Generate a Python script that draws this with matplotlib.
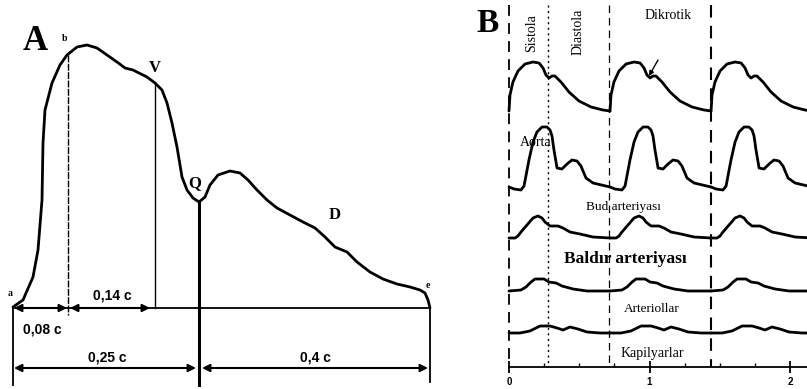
import matplotlib
matplotlib.use("Agg")
import matplotlib.pyplot as plt
import numpy as np

SERIF = "Liberation Serif"
SANS = "Liberation Sans"

# ---------------- Panel A data (pixel-space units of the drawing) ----------------
a_curve_x = [13, 23, 33, 38, 42, 43, 45, 52, 60, 67, 77, 87, 97, 107, 117, 125, 133, 147,
             155, 162, 167, 172, 177, 182, 187, 193, 199, 205, 210, 218, 230, 240, 248, 257,
             267, 277, 290, 303, 315, 325, 335, 347, 357, 370, 383, 397, 410, 420, 425, 428, 430]
a_curve_y = [307, 300, 277, 250, 200, 143, 110, 83, 65, 55, 47, 45, 48, 55, 62, 68, 70, 77,
             83, 90, 103, 123, 147, 177, 190, 198, 202, 197, 185, 175, 171, 173, 180, 190,
             200, 208, 215, 222, 228, 237, 247, 252, 262, 272, 279, 284, 287, 290, 293, 300, 308]
a_marks_x = {"a": 13, "b": 68, "V": 155, "Q": 199, "e": 430}
a_marks_top = {"b": 55, "V": 83, "Q": 203}
a_baseline_y = 308
a_lower_y = 368
a_intervals = ["0,08 c", "0,14 c", "0,25 c", "0,4 c"]

# ---------------- Panel B data (time in seconds, amplitude in drawing units) ----------------
b_cycle_starts = [0.0, 0.719, 1.438]
b_phase_lines = [0.0, 0.278, 0.715, 1.438]
b_xticks = [0, 1, 2]

w_top_t = [0, .007, .028, .064, .114, .171, .214, .242, .263, .285, .306, .327, .370, .427, .498, .584, .669, .719]
w_top_y = [111, 95, 82, 71, 64, 62, 63, 68, 75, 78, 76, 76, 82, 92, 101, 107, 110, 111]

w_aorta_t = [0, .036, .085, .107, .142, .171, .199, .235, .270, .292, .306, .320, .342, .377, .413, .448, .484, .512, .548, .598, .719]
w_aorta_y = [187, 189, 190, 186, 160, 142, 132, 127, 127, 130, 136, 150, 168, 169, 164, 160, 161, 166, 178, 183, 187]

w_bud_t = [0, .043, .064, .085, .128, .171, .206, .235, .256, .292, .349, .384, .434, .505, .598, .719]
w_bud_y = [238, 238, 236, 232, 225, 218, 216, 218, 222, 226, 226, 228, 232, 234, 237, 238]

w_baldir_t = [0, .085, .121, .157, .185, .249, .285, .335, .377, .456, .555, .719]
w_baldir_y = [291, 290, 287, 282, 279, 279, 282, 283, 286, 289, 291, 291]

w_arter_t = [0, .078, .149, .221, .292, .342, .384, .434, .491, .555, .648, .719]
w_arter_y = [333, 333, 331, 326, 326, 328, 330, 327, 329, 332, 333, 333]

b_labels = ["Sistola", "Diastola", "Dikrotik", "Aorta", "Bud arteriyası",
            "Baldır arteriyası", "Arteriollar", "Kapilyarlar"]

# ---------------- Figure ----------------
W, H = 807, 389
fig = plt.figure(figsize=(W / 100, H / 100), dpi=100)
fig.patch.set_facecolor("white")

# Panel A axes: whole figure in pixel units
axA = fig.add_axes([0, 0, 1, 1])
axA.set_xlim(0, W)
axA.set_ylim(H, 0)
axA.axis("off")

axA.plot(a_curve_x, a_curve_y, color="black", lw=2.0, solid_capstyle="round", solid_joinstyle="round")
# vertical markers
axA.plot([a_marks_x["b"]] * 2, [a_marks_top["b"], 315], color="black", lw=1.0, ls=(0, (5, 1)))
axA.plot([a_marks_x["V"]] * 2, [a_marks_top["V"], a_baseline_y], color="black", lw=1.0)
axA.plot([a_marks_x["Q"]] * 2, [a_marks_top["Q"], 385], color="black", lw=2.2)
axA.plot([a_marks_x["a"]] * 2, [a_baseline_y, 385], color="black", lw=1.3)
axA.plot([a_marks_x["e"]] * 2, [a_baseline_y, 382], color="black", lw=1.3)
axA.plot([a_marks_x["a"], a_marks_x["e"]], [a_baseline_y] * 2, color="black", lw=1.3)

def darrow(x0, x1, y):
    axA.annotate("", xy=(x1, y), xytext=(x0, y),
                 arrowprops=dict(arrowstyle="<|-|>", color="black", lw=1.5,
                                 mutation_scale=11, shrinkA=0, shrinkB=0))

darrow(a_marks_x["a"] + 1, a_marks_x["b"] - 1, a_baseline_y)
darrow(a_marks_x["b"] + 2, a_marks_x["V"] - 5, a_baseline_y)
darrow(a_marks_x["a"] + 1, a_marks_x["Q"] - 3, a_lower_y)
darrow(a_marks_x["Q"] + 3, a_marks_x["e"] - 2, a_lower_y)

tk = dict(fontfamily=SANS, fontweight="bold", fontsize=10, ha="center", va="center")
axA.text(42, 330, a_intervals[0], **tk)
axA.text(112, 295, a_intervals[1], **tk)
axA.text(107, 358, a_intervals[2], **tk)
axA.text(315, 357, a_intervals[3], **tk)

sv = dict(fontfamily=SERIF, fontweight="bold", ha="center", va="center")
axA.text(35, 41, "A", fontsize=25, **sv)
axA.text(65, 38, "b", fontsize=7, **sv)
axA.text(155, 68, "V", fontsize=12, **sv)
axA.text(195, 183, "Q", fontsize=12, **sv)
axA.text(335, 215, "D", fontsize=12, **sv)
axA.text(10, 293, "a", fontsize=7, **sv)
axA.text(428, 286, "e", fontsize=7, **sv)

# Panel B axes: x in seconds
px0, pps = 509.0, 140.5
left_px = 478
axB = fig.add_axes([left_px / W, 0, (W - left_px) / W, 1])
axB.set_xlim((left_px - px0) / pps, (W - px0) / pps)
axB.set_ylim(H, 0)
axB.patch.set_alpha(0)
for s in ["top", "left", "right"]:
    axB.spines[s].set_visible(False)
axB.spines["bottom"].set_position(("data", 367))
axB.spines["bottom"].set_bounds(0, (W - px0) / pps)
axB.spines["bottom"].set_linewidth(1.3)
axB.set_yticks([])
axB.set_xticks(b_xticks)
axB.set_xticklabels([str(v) for v in b_xticks], fontfamily=SANS, fontweight="bold", fontsize=7)
axB.set_xticks([0.25, 0.5, 0.75, 1.25, 1.5, 1.75], minor=True)
axB.tick_params(axis="x", which="major", direction="inout", length=9, width=1.3, pad=3)
axB.tick_params(axis="x", which="minor", direction="in", length=3, width=1.0)

# phase lines
styles = [dict(lw=1.3, ls=(0, (6, 4))), dict(lw=1.0, ls=(0, (1.5, 2.5))),
          dict(lw=0.9, ls=(0, (6, 4))), dict(lw=1.5, ls=(0, (6, 4)))]
for t, st in zip(b_phase_lines, styles):
    axB.plot([t, t], [5, 367], color="black", **st)

waves = [(w_top_t, w_top_y), (w_aorta_t, w_aorta_y), (w_bud_t, w_bud_y),
         (w_baldir_t, w_baldir_y), (w_arter_t, w_arter_y)]
for wt, wy in waves:
    for c in b_cycle_starts:
        axB.plot(np.asarray(wt) + c, wy, color="black", lw=2.0,
                 solid_joinstyle="round", solid_capstyle="round", clip_on=True)

def tx(px):
    return (px - px0) / pps

bt = dict(fontfamily=SERIF, ha="center", va="center", color="black")
axB.text(tx(488), 23, "B", fontsize=24, fontweight="bold", **bt)
axB.text(tx(532), 33, b_labels[0], fontsize=10, rotation=90, **bt)
axB.text(tx(578), 32, b_labels[1], fontsize=10, rotation=90, **bt)
axB.text(tx(668), 15, b_labels[2], fontsize=10, **bt)
axB.annotate("", xy=(tx(649), 76), xytext=(tx(658), 60),
             arrowprops=dict(arrowstyle="-|>", color="black", lw=1.0, mutation_scale=7,
                             shrinkA=0, shrinkB=0))
axB.text(tx(536), 142, b_labels[3], fontsize=10, **bt)
axB.text(tx(623), 207, b_labels[4], fontsize=9.5, **bt)
axB.text(tx(625), 259, b_labels[5], fontsize=12.5, fontweight="bold", **bt)
axB.text(tx(652), 309, b_labels[6], fontsize=9.5, **bt)
axB.text(tx(652), 354, b_labels[7], fontsize=10, **bt)

fig.savefig("out.png", dpi=100, facecolor="white")
